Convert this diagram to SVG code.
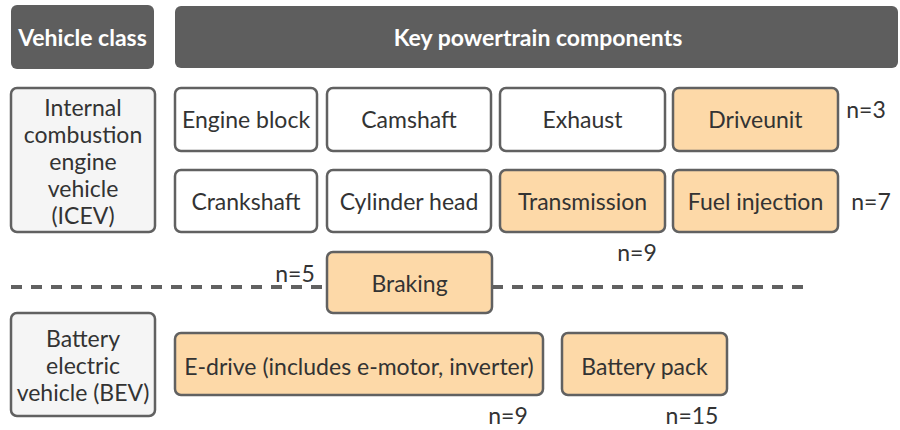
<svg xmlns="http://www.w3.org/2000/svg" width="900" height="430" viewBox="0 0 900 430">
<style>
text{font-family:Lato,"Open Sans","Liberation Sans",sans-serif;font-size:23px;fill:#333;text-anchor:middle}
.hdr rect{fill:#5e5e5e}
.hdr text{fill:#fff;font-weight:bold;font-size:23px}
.cls rect{fill:#f5f5f5;stroke:#616161;stroke-width:2.5}
.w rect{fill:#fff;stroke:#616161;stroke-width:2.5}
.o rect{fill:#fdd9a8;stroke:#616161;stroke-width:2.5}
.n{font-size:23px}
.dash{stroke:#616161;stroke-width:4;stroke-dasharray:11 9;fill:none}
</style>
<rect width="900" height="430" fill="#fff"/>
<g id="hdr-vehicle-class" class="hdr"><rect x="11" y="5" width="143" height="64" rx="6"/><text x="82.5" y="46">Vehicle class</text></g>
<g id="hdr-components" class="hdr"><rect x="175" y="6" width="723" height="62" rx="6"/><text x="538" y="46">Key powertrain components</text></g>
<g id="icev" class="cls"><rect x="11" y="88" width="144" height="144" rx="6"/>
<text x="83" y="116">Internal</text><text x="83" y="143">combustion</text><text x="83" y="170">engine</text><text x="83" y="197">vehicle</text><text x="83" y="224">(ICEV)</text></g>
<g id="bev" class="cls"><rect x="11" y="313" width="144" height="103" rx="6"/>
<text x="83" y="347">Battery</text><text x="83" y="374">electric</text><text x="83" y="401">vehicle (BEV)</text></g>
<g id="engine-block" class="w"><rect x="175" y="88" width="142" height="63" rx="6"/><text x="246" y="128">Engine block</text></g>
<g id="camshaft" class="w"><rect x="327" y="88" width="164" height="63" rx="6"/><text x="409" y="128">Camshaft</text></g>
<g id="exhaust" class="w"><rect x="500" y="88" width="165" height="63" rx="6"/><text x="582.5" y="128">Exhaust</text></g>
<g id="driveunit" class="o"><rect x="673" y="88" width="165" height="63" rx="6"/><text x="755.5" y="128">Driveunit</text></g>
<g id="crankshaft" class="w"><rect x="175" y="170" width="142" height="62" rx="6"/><text x="246" y="210">Crankshaft</text></g>
<g id="cylinder-head" class="w"><rect x="327" y="170" width="164" height="62" rx="6"/><text x="409" y="210">Cylinder head</text></g>
<g id="transmission" class="o"><rect x="500" y="170" width="165" height="62" rx="6"/><text x="582.5" y="210">Transmission</text></g>
<g id="fuel-injection" class="o"><rect x="673" y="170" width="165" height="62" rx="6"/><text x="755.5" y="210">Fuel injection</text></g>
<g id="connectors"><path class="dash" d="M11 287H327M492 287H809"/></g>
<g id="braking" class="o"><rect x="327" y="252" width="165" height="61" rx="6"/><text x="409.5" y="292">Braking</text></g>
<g id="e-drive" class="o"><rect x="175" y="333" width="368" height="62" rx="6"/><text x="359" y="375">E-drive (includes e-motor, inverter)</text></g>
<g id="battery-pack" class="o"><rect x="562" y="333" width="165" height="62" rx="6"/><text x="644.5" y="375">Battery pack</text></g>
<g id="counts">
<text class="n" x="866" y="118">n=3</text>
<text class="n" x="871" y="210">n=7</text>
<text class="n" x="637" y="261">n=9</text>
<text class="n" x="295" y="282">n=5</text>
<text class="n" x="508" y="424">n=9</text>
<text class="n" x="692" y="424">n=15</text>
</g>
</svg>
